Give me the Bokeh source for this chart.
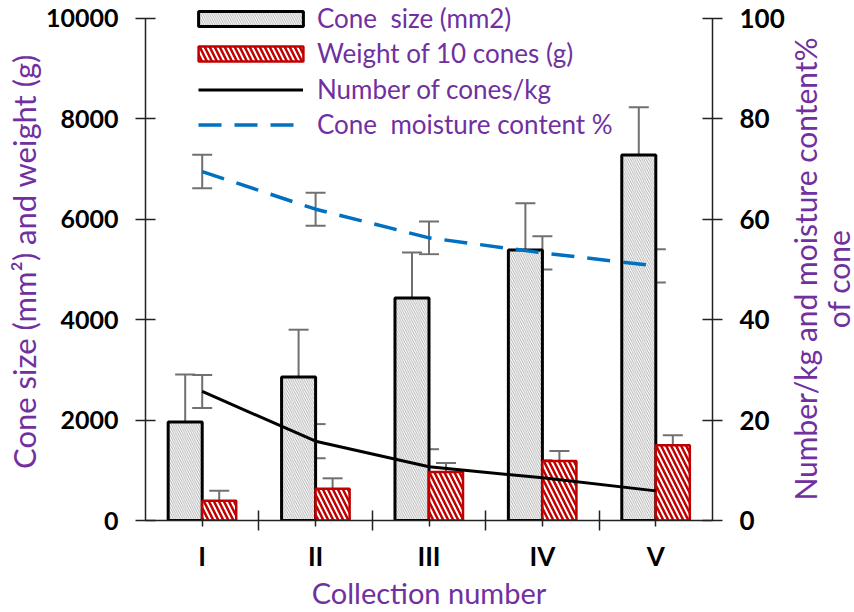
import numpy as np
from bokeh.plotting import figure
from bokeh.layouts import row
from bokeh.models import (ColumnDataSource, Range1d, LinearAxis, FixedTicker,
                          Whisker, TeeHead, Legend, LegendItem, Label)
from bokeh.embed import file_html
from bokeh.resources import INLINE

# data
collections = ["I", "II", "III", "IV", "V"]
cone_size = [1960, 2860, 4430, 5390, 7280]          # mm2, left axis
cone_size_err = [950, 940, 910, 930, 950]
weight10 = [395, 630, 965, 1185, 1500]              # g, left axis
weight10_err = [200, 210, 180, 200, 200]
cones_per_kg = [25.7, 15.8, 10.7, 8.5, 5.9]         # right axis
cones_per_kg_err = [3.3, 3.4, 3.5, 3.5, 3.4]
moisture = [69.5, 62.0, 56.3, 53.3, 50.7]           # %, right axis
moisture_err = [3.35, 3.3, 3.25, 3.3, 3.3]

left_ticks = [0, 2000, 4000, 6000, 8000, 10000]
right_ticks = [0, 20, 40, 60, 80, 100]

PURPLE = "#7030A0"
RED = "#C00000"
BLUE = "#0070C0"
ERR = "#707070"
FONT = "Lato"

xs = np.arange(1, len(collections) + 1)
src = ColumnDataSource(dict(
    xg=xs - 0.15, xr=xs + 0.15, xc=xs,
    size=cone_size, size_lo=np.array(cone_size) - np.array(cone_size_err),
    size_hi=np.array(cone_size) + np.array(cone_size_err),
    w=weight10, w_lo=np.array(weight10) - np.array(weight10_err),
    w_hi=np.array(weight10) + np.array(weight10_err),
    n=cones_per_kg, n_lo=np.array(cones_per_kg) - np.array(cones_per_kg_err),
    n_hi=np.array(cones_per_kg) + np.array(cones_per_kg_err),
    m=moisture, m_lo=np.array(moisture) - np.array(moisture_err),
    m_hi=np.array(moisture) + np.array(moisture_err),
))

# the frame reaches a little above the top tick so the legend is not clipped;
# axis bounds keep the axis lines at 0..max
TOP = 1.0317
FRAME_TOP, FRAME_BOTTOM = 2, 523
p = figure(width=787, height=612, output_backend="svg", toolbar_location=None,
           x_range=Range1d(0.5, 5.5), y_range=Range1d(0, 10000 * TOP),
           min_border_left=145, min_border_right=75,
           min_border_top=FRAME_TOP, min_border_bottom=612 - FRAME_BOTTOM)
p.extra_y_ranges = {"pct": Range1d(0, 100 * TOP)}
p.outline_line_color = None
p.xgrid.visible = False
p.ygrid.visible = False

# axes
def style_axis(ax, size="26px"):
    ax.axis_line_width = 1.5
    ax.axis_line_color = "#222222"
    ax.major_tick_line_color = "#222222"
    ax.major_tick_line_width = 1.5
    ax.major_label_text_font = FONT
    ax.major_label_text_font_style = "bold"
    ax.major_label_text_font_size = size
    ax.major_label_text_color = "black"
    ax.axis_label_text_font = FONT
    ax.axis_label_text_font_style = "normal"
    ax.axis_label_text_color = PURPLE

yl = p.yaxis[0]
yl.ticker = FixedTicker(ticks=left_ticks)
yl.bounds = (left_ticks[0], left_ticks[-1])
yl.major_tick_in = 10
yl.major_tick_out = 10
yl.minor_tick_line_color = None
yl.major_label_standoff = 17
style_axis(yl, "25px")
yl.axis_label = "Cone size (mm²) and weight (g)"
yl.axis_label_text_font_size = "31px"
yl.axis_label_standoff = 0

yr = LinearAxis(y_range_name="pct", ticker=FixedTicker(ticks=right_ticks))
yr.bounds = (right_ticks[0], right_ticks[-1])
yr.major_tick_in = 10
yr.major_tick_out = 10
yr.minor_tick_line_color = None
yr.major_label_standoff = 17
style_axis(yr)
p.add_layout(yr, "right")

xa = p.xaxis[0]
xa.ticker = FixedTicker(ticks=list(xs), minor_ticks=list(xs[:-1] + 0.5))
xa.major_label_overrides = {int(i): c for i, c in zip(xs, collections)}
xa.major_tick_line_color = None
xa.minor_tick_in = 10
xa.minor_tick_out = 10
xa.minor_tick_line_width = 1.5
xa.minor_tick_line_color = "#222222"
xa.major_label_standoff = 9
style_axis(xa)
xa.axis_label = "Collection number"
xa.axis_label_text_font_size = "29px"
xa.axis_label_standoff = 0

# bars
gb = p.vbar(x="xg", top="size", width=0.3, source=src, fill_color="white",
            line_color="black", line_width=3, hatch_pattern="\\",
            hatch_color="#a6a6a6", hatch_scale=4.5, hatch_weight=0.9)
rb = p.vbar(x="xr", top="w", width=0.3, source=src, fill_color="white",
            line_color=RED, line_width=2.5, hatch_pattern="\\",
            hatch_color=RED, hatch_scale=10, hatch_weight=2.5)

# lines
nl = p.line(x="xc", y="n", source=src, y_range_name="pct", line_color="black",
            line_width=3)
ml = p.line(x="xc", y="m", source=src, y_range_name="pct", line_color=BLUE,
            line_width=3.5, line_dash="23 13")

# error bars
def whisker(base, lo, hi, rng=None):
    kw = dict(base=base, lower=lo, upper=hi, source=src, line_color=ERR,
              line_width=2,
              lower_head=TeeHead(size=20, line_color=ERR, line_width=2),
              upper_head=TeeHead(size=20, line_color=ERR, line_width=2))
    if rng:
        kw["y_range_name"] = rng
    p.add_layout(Whisker(**kw))

whisker("xg", "size_lo", "size_hi")
whisker("xr", "w_lo", "w_hi")
whisker("xc", "n_lo", "n_hi", "pct")
whisker("xc", "m_lo", "m_hi", "pct")

# legends: bars and lines separately so the swatches line up
leg_kw = dict(padding=0, margin=0, spacing=3, label_text_font=FONT,
              label_text_font_size="26px", label_text_color=PURPLE,
              background_fill_alpha=0, border_line_color=None)
leg_bars = Legend(items=[
    LegendItem(label="Cone  size (mm2)", renderers=[gb]),
    LegendItem(label="Weight of 10 cones (g)", renderers=[rb]),
], location=(40, 451), glyph_width=131, glyph_height=19, label_standoff=1,
    **leg_kw)
leg_lines = Legend(items=[
    LegendItem(label="Number of cones/kg", renderers=[nl]),
    LegendItem(label="Cone  moisture content %", renderers=[ml]),
], location=(53, 380), glyph_width=105, glyph_height=15, label_standoff=14,
    **leg_kw)
p.add_layout(leg_bars)
p.add_layout(leg_lines)

# right-hand axis title, drawn in a narrow strip next to the chart
# (its frame lines up with the chart frame, so the range is in page pixels)
side = figure(width=67, height=612, output_backend="svg", toolbar_location=None,
              x_range=Range1d(787, 854),
              y_range=Range1d(FRAME_BOTTOM, FRAME_TOP),
              x_axis_location=None, y_axis_location=None, min_border=0)
side.outline_line_color = None
side.xgrid.visible = False
side.ygrid.visible = False
title_kw = dict(text_font=FONT, text_font_size="30px", text_color=PURPLE,
                text_align="center", text_baseline="middle", angle=np.pi / 2)
side.add_layout(Label(x=804, y=270, text="Number/kg and moisture content%",
                      **title_kw))
side.add_layout(Label(x=837, y=280, text="of cone", **title_kw))

layout = row(p, side)
open("out.html", "w").write(file_html(layout, INLINE))
